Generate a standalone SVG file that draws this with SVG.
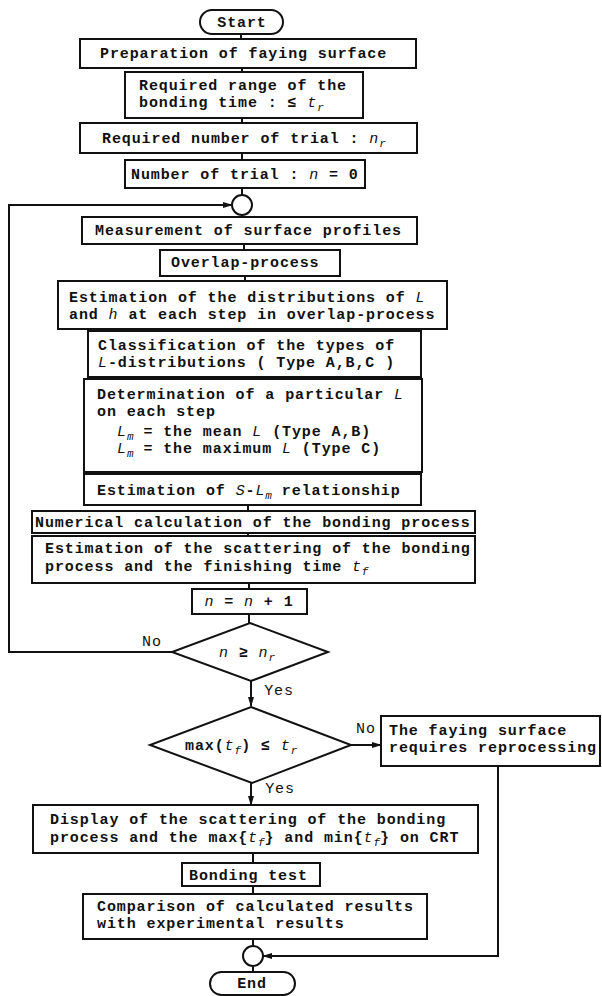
<svg xmlns="http://www.w3.org/2000/svg" width="602" height="996" viewBox="0 0 602 996">
<style>
.b{fill:#fff;stroke:#111;stroke-width:2}
.c{fill:none;stroke:#111;stroke-width:2}
text{font-family:"Liberation Mono","DejaVu Sans Mono",monospace;font-size:15px;letter-spacing:0.9px;font-weight:bold;fill:#111}
.m{text-anchor:middle}
.l{font-weight:normal}
.v{font-style:italic;font-weight:normal}
.s{font-size:11px;letter-spacing:0;font-style:italic;font-weight:normal}
</style>
<defs>
<marker id="ah" markerWidth="10" markerHeight="8" refX="9" refY="4" orient="auto" markerUnits="userSpaceOnUse">
<path d="M0,1 L10,4 L0,7 Z" fill="#111"/>
</marker>
</defs>
<rect width="602" height="996" fill="#fff"/>
<g id="connectors">
<line class="c" x1="241" y1="34" x2="241" y2="39"/>
<line class="c" x1="242" y1="68" x2="242" y2="72"/>
<line class="c" x1="242" y1="118" x2="242" y2="123"/>
<line class="c" x1="242" y1="153" x2="242" y2="160"/>
<line class="c" x1="242" y1="188" x2="242" y2="195"/>
<line class="c" x1="242" y1="215" x2="242" y2="217"/>
<line class="c" x1="244" y1="244" x2="244" y2="250"/>
<line class="c" x1="245" y1="276" x2="245" y2="281"/>
<line class="c" x1="246" y1="329" x2="246" y2="331"/>
<line class="c" x1="247" y1="377" x2="247" y2="379"/>
<line class="c" x1="247" y1="472" x2="247" y2="474"/>
<line class="c" x1="248" y1="505" x2="248" y2="511"/>
<line class="c" x1="248" y1="533" x2="248" y2="536"/>
<line class="c" x1="249" y1="583" x2="249" y2="589"/>
<line class="c" x1="249" y1="614" x2="249" y2="623"/>
<line class="c" x1="251" y1="681" x2="251" y2="706" marker-end="url(#ah)"/>
<line class="c" x1="251" y1="783" x2="251" y2="805" marker-end="url(#ah)"/>
<line class="c" x1="253" y1="853" x2="253" y2="863"/>
<line class="c" x1="253" y1="886" x2="253" y2="894"/>
<line class="c" x1="253" y1="939" x2="253" y2="946"/>
<line class="c" x1="253" y1="966" x2="253" y2="972"/>
<polyline class="c" points="172,652 9,652 9,205 232,205" marker-end="url(#ah)"/>
<line class="c" x1="351" y1="745" x2="381" y2="745" marker-end="url(#ah)"/>
<polyline class="c" points="498,766 498,956 263,956" marker-end="url(#ah)"/>
<text x="152" y="646" class="m l">No</text>
<text x="279" y="695" class="m l">Yes</text>
<text x="366" y="733" class="m l">No</text>
<text x="280" y="793" class="m l">Yes</text>
</g>
<g id="start"><rect class="b" x="200" y="10" width="83" height="24" rx="12"/><text x="242" y="27" class="m">Start</text></g>
<g id="prep"><rect class="b" x="80" y="39" width="336" height="29"/><text x="100" y="58">Preparation of faying surface</text></g>
<g id="range"><rect class="b" x="125" y="72" width="238" height="46"/><text x="139" y="90">Required range of the</text><text x="139" y="107">bonding time : ≤ <tspan class="v">t</tspan><tspan class="s" dy="4">r</tspan></text></g>
<g id="reqnum"><rect class="b" x="80" y="123" width="337" height="30"/><text x="102" y="143">Required number of trial : <tspan class="v">n</tspan><tspan class="s" dy="4">r</tspan></text></g>
<g id="numtrial"><rect class="b" x="125" y="160" width="240" height="28"/><text x="131" y="179">Number of trial : <tspan class="v">n</tspan> = 0</text></g>
<g id="join1"><circle class="b" cx="242" cy="205" r="10"/></g>
<g id="measure"><rect class="b" x="82" y="217" width="335" height="27"/><text x="95" y="235">Measurement of surface profiles</text></g>
<g id="overlap"><rect class="b" x="160" y="250" width="180" height="26"/><text x="171" y="267">Overlap-process</text></g>
<g id="estdist"><rect class="b" x="58" y="281" width="389" height="48"/><text x="69" y="302">Estimation of the distributions of <tspan class="v">L</tspan></text><text x="69" y="319">and <tspan class="v">h</tspan> at each step in overlap-process</text></g>
<g id="classify"><rect class="b" x="88" y="331" width="333" height="46"/><text x="98" y="350">Classification of the types of</text><text x="98" y="367"><tspan class="v">L</tspan>-distributions ( Type A,B,C )</text></g>
<g id="determine"><rect class="b" x="84" y="379" width="338" height="93"/><text x="97" y="399">Determination of a particular <tspan class="v">L</tspan></text><text x="97" y="416">on each step</text><text x="117" y="436"><tspan class="v">L</tspan><tspan class="s" dy="4">m</tspan><tspan dy="-4"> = the mean </tspan><tspan class="v">L</tspan>  (Type A,B)</text><text x="117" y="453"><tspan class="v">L</tspan><tspan class="s" dy="4">m</tspan><tspan dy="-4"> = the maximum </tspan><tspan class="v">L</tspan> (Type C)</text></g>
<g id="slm"><rect class="b" x="84" y="474" width="337" height="31"/><text x="97" y="495">Estimation of <tspan class="v">S</tspan>-<tspan class="v">L</tspan><tspan class="s" dy="4">m</tspan><tspan dy="-4"> relationship</tspan></text></g>
<g id="numerical"><rect class="b" x="32" y="511" width="443" height="22"/><text x="35" y="527">Numerical calculation of the bonding process</text></g>
<g id="estscat"><rect class="b" x="32" y="536" width="443" height="47"/><text x="45" y="553">Estimation of the scattering of the bonding</text><text x="45" y="571">process and the finishing time <tspan class="v">t</tspan><tspan class="s" dy="4">f</tspan></text></g>
<g id="incr"><rect class="b" x="192" y="589" width="115" height="25"/><text x="249" y="606" class="m"><tspan class="v">n</tspan> = <tspan class="v">n</tspan> + 1</text></g>
<g id="dec1"><polygon class="b" points="250,623 328,652 251,681 172,652"/><text x="247" y="657" class="m"><tspan class="v">n</tspan> ≥ <tspan class="v">n</tspan><tspan class="s" dy="4">r</tspan></text></g>
<g id="dec2"><polygon class="b" points="251,707 351,745 252,783 150,745"/><text x="185" y="750">max(<tspan class="v">t</tspan><tspan class="s" dy="4">f</tspan><tspan dy="-4">) ≤ </tspan><tspan class="v">t</tspan><tspan class="s" dy="4">r</tspan></text></g>
<g id="reprocess"><rect class="b" x="381" y="716" width="219" height="50"/><text x="389" y="735">The faying surface</text><text x="389" y="752">requires reprocessing</text></g>
<g id="display"><rect class="b" x="33" y="805" width="445" height="48"/><text x="50" y="824">Display of the scattering of the bonding</text><text x="50" y="842">process and the max{<tspan class="v">t</tspan><tspan class="s" dy="4">f</tspan><tspan dy="-4">} and min{</tspan><tspan class="v">t</tspan><tspan class="s" dy="4">f</tspan><tspan dy="-4">} on CRT</tspan></text></g>
<g id="bondtest"><rect class="b" x="182" y="863" width="138" height="23"/><text x="189" y="880">Bonding test</text></g>
<g id="compare"><rect class="b" x="83" y="894" width="344" height="45"/><text x="97" y="911">Comparison of calculated results</text><text x="97" y="928">with experimental results</text></g>
<g id="join2"><circle class="b" cx="253" cy="956" r="10"/></g>
<g id="end"><rect class="b" x="210" y="972" width="85" height="23" rx="11.5"/><text x="252" y="988" class="m">End</text></g>
</svg>
